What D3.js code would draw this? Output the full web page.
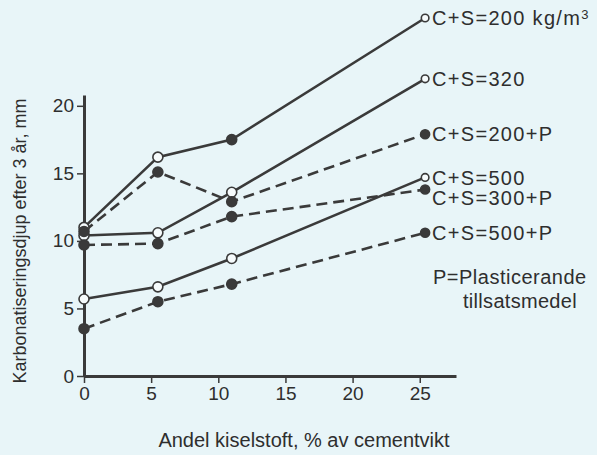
<!DOCTYPE html>
<html>
<head>
<meta charset="utf-8">
<script src="https://cdn.jsdelivr.net/npm/d3@7"></script>
<style>
  html, body { margin: 0; padding: 0; background: #e8f5f8; }
  svg { display: block; font-family: 'Liberation Sans', Arial, Helvetica, sans-serif; }
</style>
</head>
<body>
<div id="chart"></div>
<script>
'use strict';

// silica fume share (% of cement weight) where each series was measured
var xValues = [0, 5.5, 11, 25.4];
var xTicks = [0, 5, 10, 15, 20, 25];
var yTicks = [0, 5, 10, 15, 20];

var seriesNames = ['C+S=200 kg/m', 'C+S=320', 'C+S=200+P', 'C+S=500', 'C+S=300+P', 'C+S=500+P'];
var cs200 = [11.0, 16.2, 17.5, 26.5];
var cs320 = [10.4, 10.6, 13.6, 22.0];
var cs200P = [10.7, 15.1, 12.9, 17.9];
var cs500 = [5.7, 6.6, 8.7, 14.7];
var cs300P = [9.7, 9.8, 11.8, 13.8];
var cs500P = [3.5, 5.5, 6.8, 10.6];
var seriesValues = [cs200, cs320, cs200P, cs500, cs300P, cs500P];
var withPlasticizer = [false, false, true, false, true, true];

var width = 597;
var height = 455;
var ink = '#3a3a3a';

var x = d3.scaleLinear().domain([0, 27.7]).range([84, 456]);
var y = d3.scaleLinear().domain([0, 20.8]).range([376, 95]);

var svg = d3.select('#chart').append('svg')
	.attr('width', width)
	.attr('height', height);

svg.append('rect')
	.attr('width', width)
	.attr('height', height)
	.style('fill', '#e8f5f8');

// axes
var gx = svg.append('g')
	.attr('transform', 'translate(0,' + y(0) + ')')
	.call(d3.axisBottom(x).tickValues(xTicks).tickSize(7).tickSizeOuter(0).tickPadding(4));

var gy = svg.append('g')
	.attr('transform', 'translate(' + x(0) + ',0)')
	.call(d3.axisLeft(y).tickValues(yTicks).tickSize(7).tickSizeOuter(0).tickPadding(3));

[gx, gy].forEach(function(g){
	g.select('.domain').style('stroke', ink).style('stroke-width', 3);
	g.selectAll('.tick line').style('stroke', ink).style('stroke-width', 1.5);
	g.selectAll('.tick text')
		.style('font-size', '19px')
		.style('fill', '#2e2e2e')
		.style('font-family', "'Liberation Sans', Arial, sans-serif");
});

// lines
var line = d3.line()
	.x(function(d, i){ return x(xValues[i]); })
	.y(function(d){ return y(d); });

seriesValues.forEach(function(vals, s){
	svg.append('path')
		.attr('d', line(vals))
		.style('fill', 'none')
		.style('stroke', ink)
		.style('stroke-width', 2.6)
		.style('stroke-dasharray', withPlasticizer[s] ? '11,6' : null);
});

// markers
seriesValues.forEach(function(vals, s){
	svg.selectAll(null)
		.data(vals)
		.enter().append('circle')
		.attr('cx', function(d, i){ return x(xValues[i]); })
		.attr('cy', function(d){ return y(d); })
		.attr('r', function(d, i){ return i === vals.length - 1 ? (withPlasticizer[s] ? 4.5 : 3.8) : 5; })
		.style('stroke', ink)
		.style('stroke-width', 1.6)
		.style('fill', function(d, i){
			// the 200 kg/m3 curve has a solid point at 11 %
			var filled = withPlasticizer[s] || (s === 0 && i === 2);
			return filled ? ink : '#f6fbfc';
		});
});

// end labels, pushed apart where they would overlap
var labels = seriesValues.map(function(vals, s){
	return {name: seriesNames[s], s: s, ly: y(vals[vals.length - 1])};
}).sort(function(a, b){ return a.ly - b.ly; });

for (var i = 1; i < labels.length; i++) {
	if (labels[i].ly - labels[i - 1].ly < 20) labels[i].ly = labels[i - 1].ly + 20;
}

labels.forEach(function(l){
	var t = svg.append('text')
		.attr('x', x(xValues[xValues.length - 1]) + 7)
		.attr('y', l.ly)
		.attr('dy', '0.36em')
		.style('font-size', '20px')
		.style('letter-spacing', '1.3px')
		.style('fill', '#2e2e2e')
		.text(l.name);
	if (l.s === 0) {
		t.append('tspan')
			.attr('dy', '-0.45em')
			.style('font-size', '13px')
			.text('3');
	}
});

svg.append('text')
	.attr('x', 433)
	.attr('y', 284)
	.style('font-size', '20px')
	.style('letter-spacing', '0.5px')
	.style('fill', '#2e2e2e')
	.text('P=Plasticerande');

svg.append('text')
	.attr('x', 463)
	.attr('y', 308)
	.style('font-size', '20px')
	.style('letter-spacing', '0.3px')
	.style('fill', '#2e2e2e')
	.text('tillsatsmedel');

// axis titles
svg.append('text')
	.attr('x', 304)
	.attr('y', 447)
	.style('text-anchor', 'middle')
	.style('font-size', '20px')
	.style('fill', '#2e2e2e')
	.text('Andel kiselstoft, % av cementvikt');

svg.append('text')
	.attr('transform', 'translate(26,241) rotate(-90)')
	.style('text-anchor', 'middle')
	.style('font-size', '18px')
	.style('fill', '#2e2e2e')
	.text('Karbonatiseringsdjup efter 3 år, mm');
</script>
</body>
</html>
